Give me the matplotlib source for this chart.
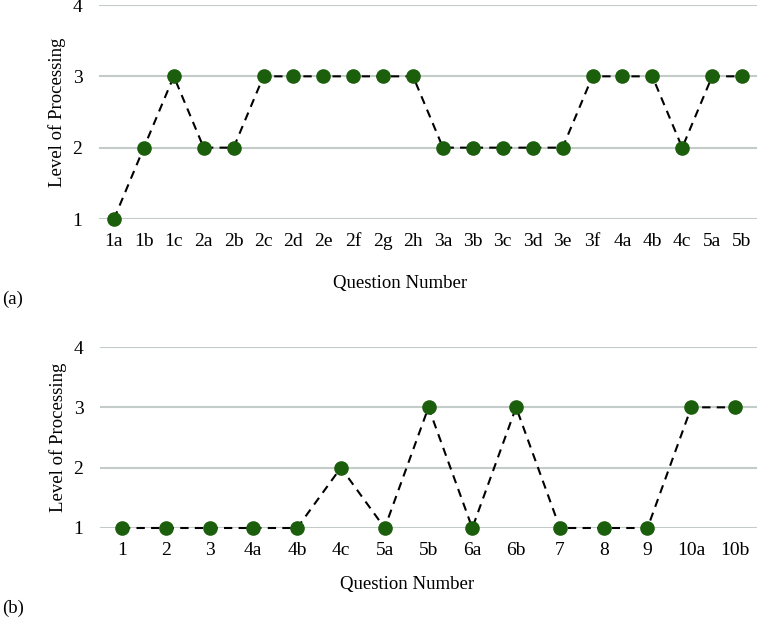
import matplotlib
matplotlib.use('Agg')
import matplotlib.pyplot as plt

# panel (a)
labels_a = ['1a', '1b', '1c', '2a', '2b', '2c', '2d', '2e', '2f', '2g', '2h',
            '3a', '3b', '3c', '3d', '3e', '3f', '4a', '4b', '4c', '5a', '5b']
levels_a = [1, 2, 3, 2, 2, 3, 3, 3, 3, 3, 3,
            2, 2, 2, 2, 2, 3, 3, 3, 2, 3, 3]

# panel (b)
labels_b = ['1', '2', '3', '4a', '4b', '4c', '5a', '5b', '6a', '6b',
            '7', '8', '9', '10a', '10b']
levels_b = [1, 1, 1, 1, 1, 2, 1, 3, 1, 3, 1, 1, 1, 3, 3]

plt.rcParams['font.family'] = ['Liberation Serif', 'DejaVu Serif']
plt.rcParams['font.size'] = 13

W, H = 767, 620
fig = plt.figure(figsize=(W / 100, H / 100), dpi=100)

def panel(rect, labels, levels, tag, tag_y, xlabel_x, xlabel_y):
    ax = fig.add_axes(rect)
    x = list(range(len(labels)))
    ax.plot(x, levels, color='black', linestyle=(0, (4, 3)), linewidth=1.5,
            marker='o', markersize=9.5, markerfacecolor='#1b5e0c',
            markeredgecolor='#1b5e0c', clip_on=False, zorder=3)
    ax.set_xlim(-0.5, len(labels) - 0.5)
    ax.set_ylim(1, 4)
    ax.set_yticks([1, 2, 3, 4])
    ax.set_xticks(x)
    ax.set_xticklabels(labels)
    ax.grid(axis='y', color='#c3ccc8', linewidth=1.5)
    ax.set_axisbelow(True)
    for s in ax.spines.values():
        s.set_visible(False)
    ax.tick_params(length=0, labelsize=14)
    ax.tick_params(axis='x', pad=10)
    ax.tick_params(axis='y', pad=12)
    ax.set_ylabel('Level of Processing', fontsize=13.5, labelpad=5)
    fig.text(xlabel_x, xlabel_y, 'Question Number', ha='center', va='center',
             fontsize=13.5)
    fig.text(0.003, tag_y, tag, ha='left', va='center', fontsize=13.5)
    return ax

panel([99 / W, 1 - 219 / H, 658 / W, 214 / H], labels_a, levels_a,
      '(a)', 1 - 299 / H, 400 / W, 1 - 283 / H)
panel([100 / W, 1 - 528 / H, 657 / W, 181 / H], labels_b, levels_b,
      '(b)', 1 - 608 / H, 407 / W, 1 - 585 / H)

fig.savefig('out.png', dpi=100)
